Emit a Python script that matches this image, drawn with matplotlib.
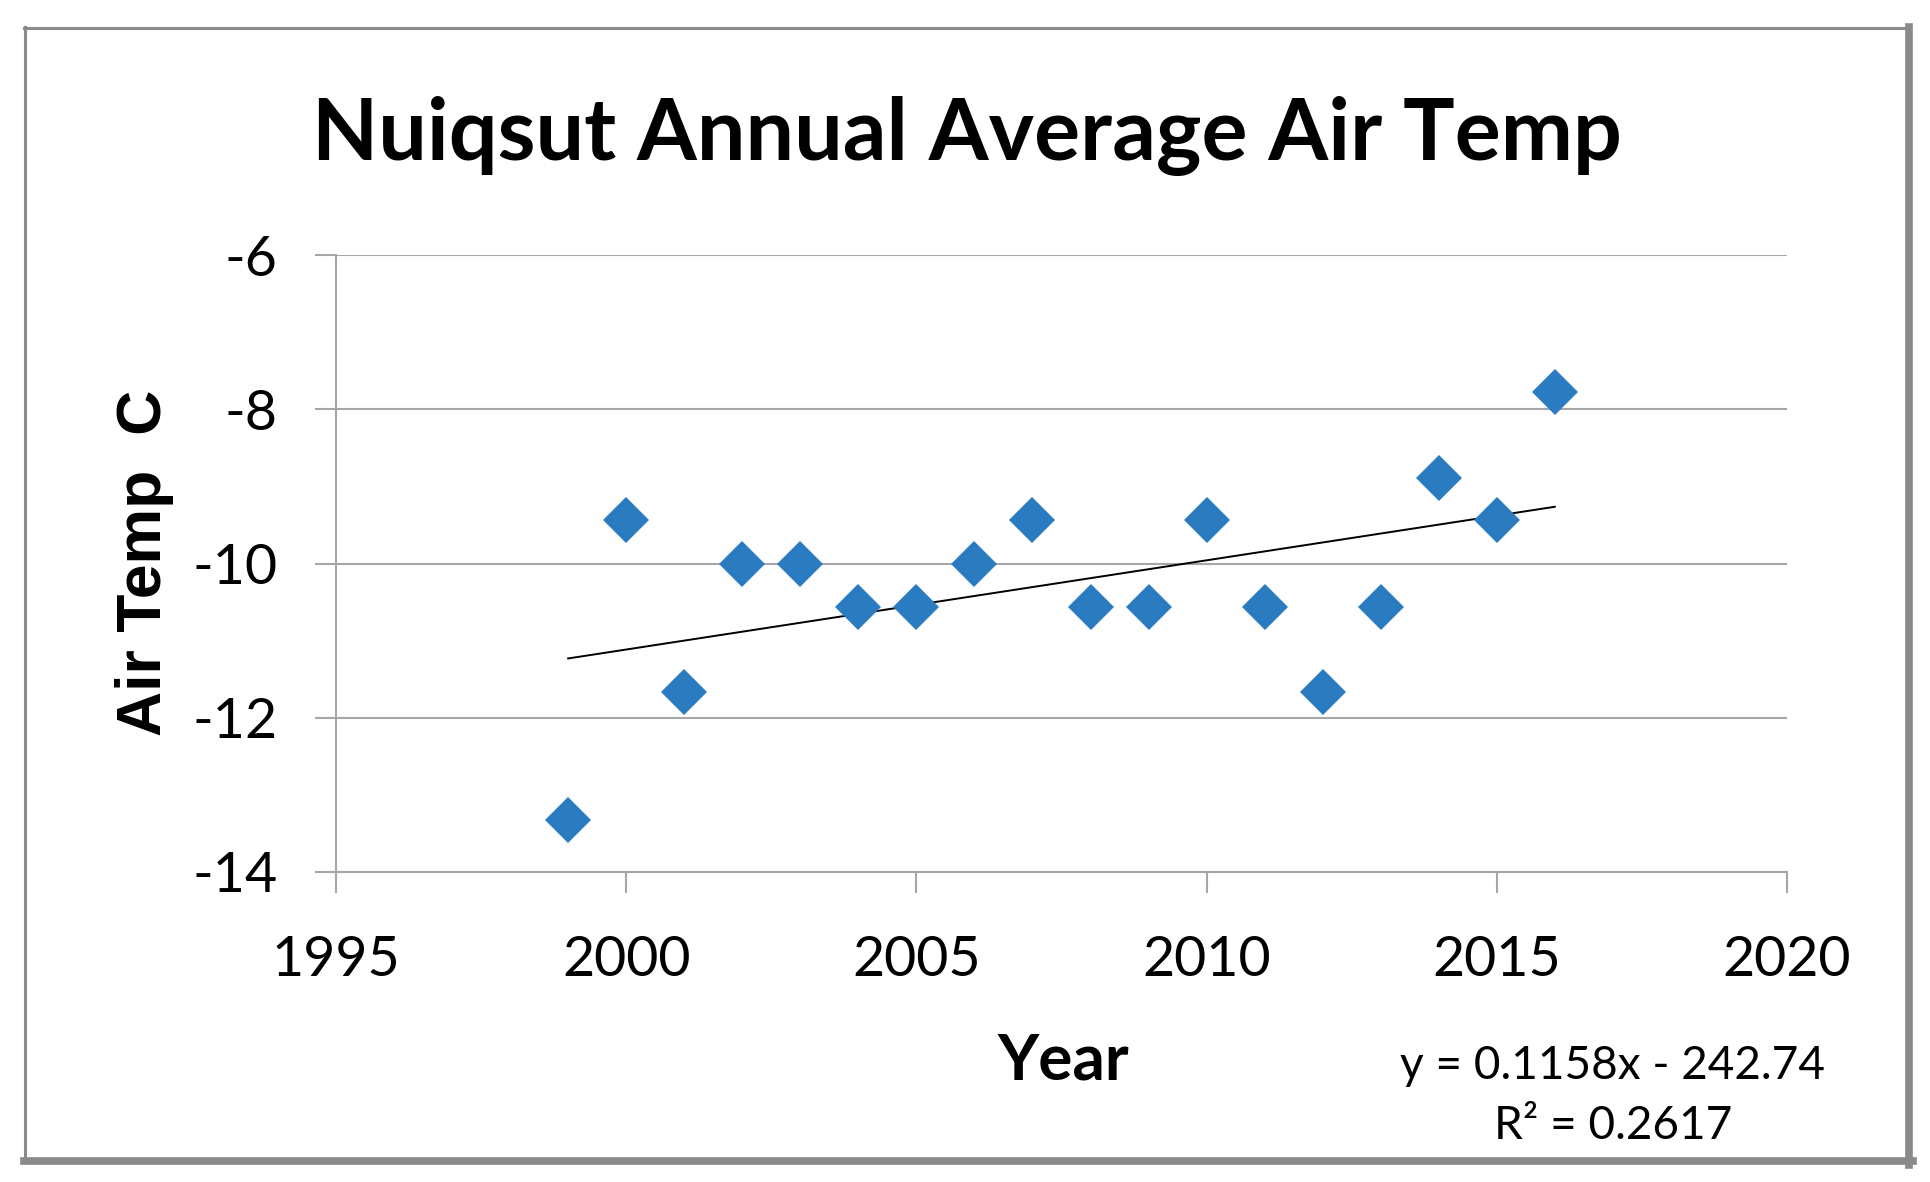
import numpy as np
import matplotlib
matplotlib.use('Agg')
import matplotlib.pyplot as plt
from matplotlib.lines import Line2D

# data
years = [1999, 2000, 2001, 2002, 2003, 2004, 2005, 2006, 2007,
         2008, 2009, 2010, 2011, 2012, 2013, 2014, 2015, 2016]
temps = [-13.33, -9.44, -11.67, -10.0, -10.0, -10.56, -10.56, -10.0, -9.44,
         -10.56, -10.56, -9.44, -10.56, -11.67, -10.56, -8.89, -9.44, -7.78]
xticks = [1995, 2000, 2005, 2010, 2015, 2020]
yticks = [-14, -12, -10, -8, -6]
title = 'Nuiqsut Annual Average Air Temp'
eq_text = 'y = 0.1158x - 242.74'
r2_text = 'R\u00b2 = 0.2617'

plt.rcParams['font.family'] = ['Lato', 'DejaVu Sans']
plt.rcParams['axes.unicode_minus'] = False

W, H = 1931, 1182
fig = plt.figure(figsize=(W / 100, H / 100), dpi=100)
fx = lambda px: px / W
fy = lambda py: 1 - py / H

grey = '#a6a6a6'
ax = fig.add_axes([fx(336), fy(872), fx(1787 - 336), (872 - 255) / H])

ax.plot(years, temps, linestyle='none', marker='D', ms=23, mew=0,
        color='#2a7bc0', zorder=3)

# linear trend
k, b = np.polyfit(years, temps, 1)
xs = np.array([years[0], years[-1]])
ax.plot(xs, k * xs + b, color='black', lw=1.4, zorder=2)

ax.set_xlim(1995, 2020)
ax.set_ylim(-14, -6)
ax.set_xticks(xticks)
ax.set_xticklabels([str(v) for v in xticks])
ax.set_yticks(yticks)
ax.set_yticklabels([str(v) for v in yticks])
ax.grid(axis='y', color=grey, lw=1.5)
ax.set_axisbelow(True)
for s in ['top', 'right']:
    ax.spines[s].set_visible(False)
for s in ['left', 'bottom']:
    ax.spines[s].set_color(grey)
    ax.spines[s].set_linewidth(1.5)
ax.tick_params(axis='both', direction='out', length=15, width=1.5,
               color=grey, labelsize=40, labelcolor='black')
ax.tick_params(axis='x', pad=30)
ax.tick_params(axis='y', pad=27)

fig.text(fx(967), fy(160), title, ha='center', va='baseline',
         fontsize=62, fontweight='bold')
fig.text(fx(144), fy(563), 'Air Temp  C', rotation=90, ha='center',
         va='center', fontsize=45, fontweight='bold',
         family=['Liberation Sans', 'DejaVu Sans'])
fig.text(fx(1063), fy(1080), 'Year', ha='center', va='baseline',
         fontsize=46, fontweight='bold')
fig.text(fx(1613), fy(1079), eq_text, ha='center', va='baseline', fontsize=33)
fig.text(fx(1613), fy(1139), r2_text, ha='center', va='baseline', fontsize=33)

# outer chart frame: thin top/left, heavier right/bottom
fc = '#8a8a8a'
fig.add_artist(Line2D([fx(24), fx(1910)], [fy(28), fy(28)], color=fc, lw=2.2))
fig.add_artist(Line2D([fx(25), fx(25)], [fy(27), fy(1161)], color=fc, lw=2.2))
fig.add_artist(Line2D([fx(1909), fx(1909)], [fy(27), fy(1165)], color=fc, lw=5.5))
fig.add_artist(Line2D([fx(24), fx(1913)], [fy(1161), fy(1161)], color=fc, lw=5.5))

fig.savefig('out.png', dpi=100)
